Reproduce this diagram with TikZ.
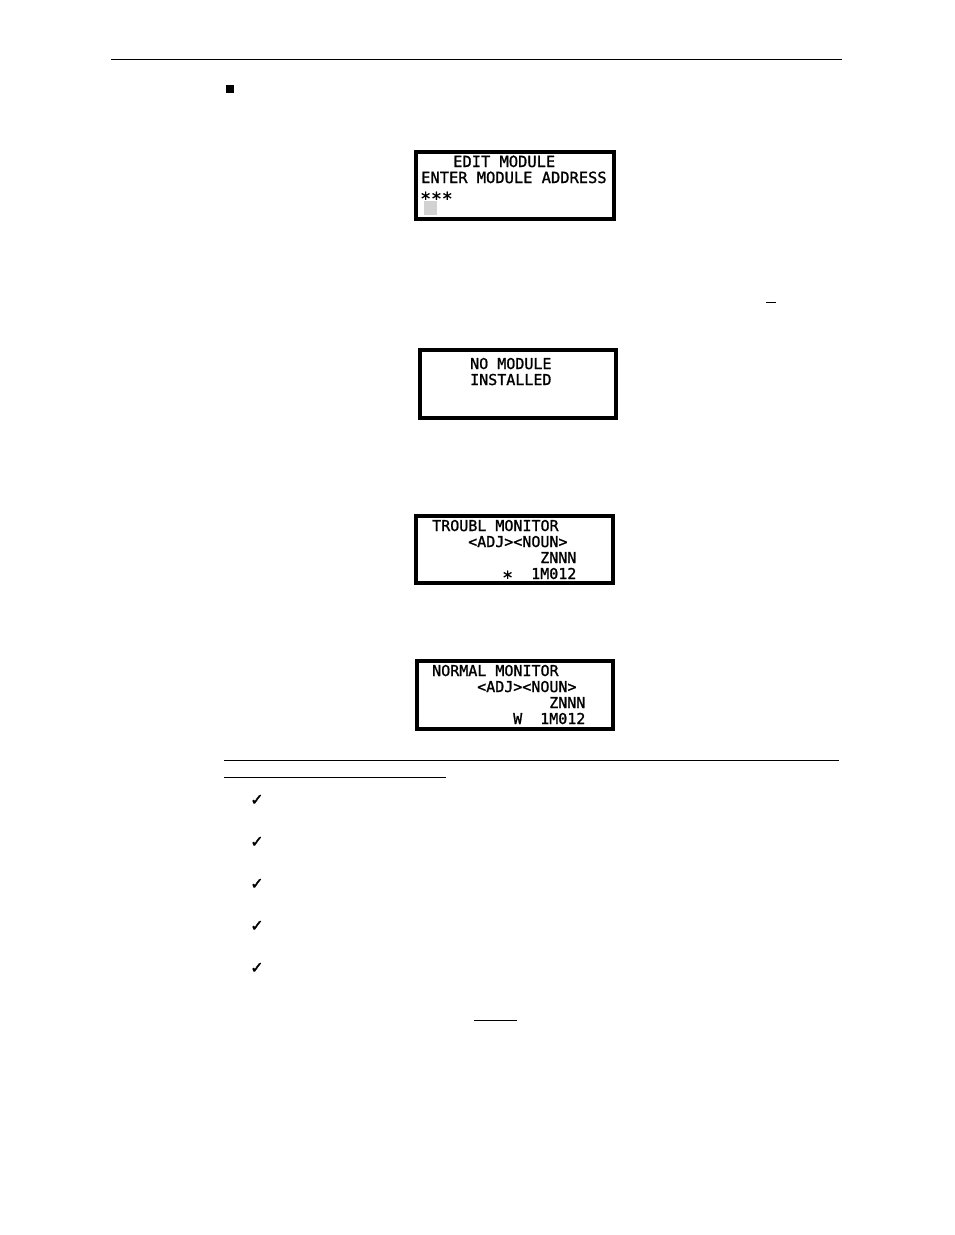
\documentclass[tikz,border=0pt]{standalone}
\usepackage{fontspec}
\newfontfamily\lcdfont[FakeBold=1.2]{DejaVu Sans Mono}
\newfontfamily\symfont[FakeBold=2]{DejaVu Sans}
\begin{document}
\begin{tikzpicture}[x=1pt,y=-1pt,
  lcdbox/.style={draw=black,line width=4pt,fill=white},
  lcdtext/.style={anchor=base west,inner sep=0pt,font=\lcdfont\fontsize{15}{16}\selectfont},
  lcdwide/.style={anchor=base west,inner sep=0pt,font=\lcdfont\fontsize{15.4}{16}\selectfont},
  lcdstar/.style={anchor=base west,inner sep=0pt,font=\lcdfont\fontsize{18}{18}\selectfont},
  checkmark/.style={inner sep=0pt,font=\symfont\fontsize{16}{16}\selectfont},
  rulethin/.style={draw=black,line width=1pt},
  rulemid/.style={draw=black,line width=1.3pt}]
\useasboundingbox[fill=white] (0,0) rectangle (954,1235);

% page header rule
\draw[rulethin] (111,59.5) -- (842,59.5);
% bullet
\fill[black] (225.5,84.5) rectangle (233.5,93);

% Box 1: EDIT MODULE
\draw[lcdbox] (416,152) rectangle (614,219);
\node[lcdwide] (b1l1) at (453,167) {EDIT MODULE};
\node[lcdwide] (b1l2) at (421,183) {ENTER MODULE ADDRESS};
\node[lcdstar] (b1l3) at (420,205) {***};
\fill[gray!35] (424,201) rectangle (437,215);

% underscore mark
\draw[rulemid] (766,302.5) -- (776,302.5);

% Box 2: NO MODULE INSTALLED
\draw[lcdbox] (420,350) rectangle (616,418);
\node[lcdtext] (b2l1) at (470,369) {NO MODULE};
\node[lcdtext] (b2l2) at (470,385) {INSTALLED};

% Box 3: TROUBL MONITOR
\draw[lcdbox] (416,516) rectangle (613,583);
\node[lcdtext] (b3l1) at (432,531) {TROUBL MONITOR};
\node[lcdtext] (b3l2) at (468,547) {<ADJ><NOUN>};
\node[lcdtext] (b3l3) at (540,563) {ZNNN};
\node[lcdstar] (b3star) at (502,584) {*};
\node[lcdtext] (b3l4) at (531,579) {1M012};

% Box 4: NORMAL MONITOR
\draw[lcdbox] (417,661) rectangle (613,729);
\node[lcdtext] (b4l1) at (432,676) {NORMAL MONITOR};
\node[lcdtext] (b4l2) at (477,692) {<ADJ><NOUN>};
\node[lcdtext] (b4l3) at (549,708) {ZNNN};
\node[lcdtext] (b4w) at (513,724) {W};
\node[lcdtext] (b4l4) at (540,724) {1M012};

% rules
\draw[rulemid] (224,760.5) -- (839,760.5);
\draw[rulemid] (224,777.5) -- (446,777.5);

% checkmarks
\node[checkmark] (c1) at (257,800) {✓};
\node[checkmark] (c2) at (257,842) {✓};
\node[checkmark] (c3) at (257,884) {✓};
\node[checkmark] (c4) at (257,926) {✓};
\node[checkmark] (c5) at (257,968) {✓};

% underline
\draw[rulemid] (474,1020.5) -- (517,1020.5);
\end{tikzpicture}
\end{document}
